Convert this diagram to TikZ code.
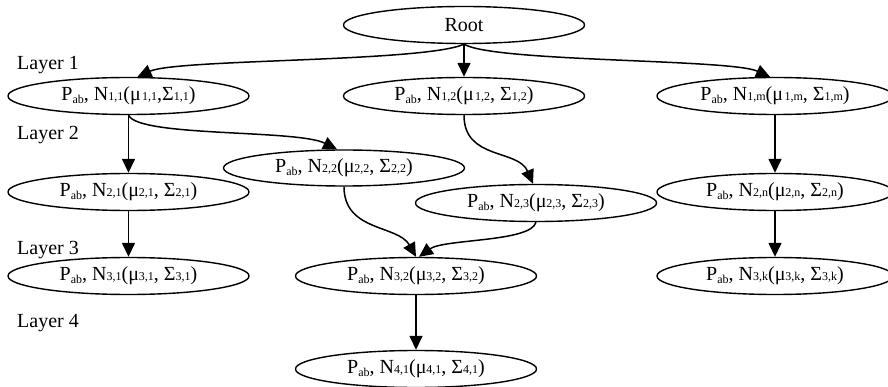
\documentclass[tikz,border=0pt]{standalone}
\usepackage{fontspec}
\setmainfont{Liberation Serif}
\usetikzlibrary{arrows.meta,shapes.geometric}
\newcommand\abx{\raisebox{-2.5pt}{\fontsize{12}{12}\selectfont ab}}
\newcommand\sbx[1]{{\fontsize{12}{12}\selectfont #1}}
\begin{document}
\begin{tikzpicture}[x=1pt,y=-1pt,
  gnode/.style={draw,ellipse,line width=1.4pt,minimum width=241pt,minimum height=37pt,inner sep=0pt,font=\fontsize{20}{22}\selectfont},
  layerlbl/.style={anchor=west,inner sep=0pt,font=\fontsize{20}{22}\selectfont},
  edge/.style={line width=1.5pt,-{Triangle[length=14pt,width=13pt]}}]
\useasboundingbox (0,0) rectangle (888,387);
% nodes
\node[gnode] (root) at (464,25) {Root};
\node[gnode] (n11) at (128.5,96) {P\abx, N\sbx{1,1}(μ\kern1.5pt\sbx{1,1},Σ\sbx{1,1})};
\node[gnode] (n12) at (464,96) {P\abx, N\sbx{1,2}(μ\kern1.5pt\sbx{1,2}, Σ\sbx{1,2})};
\node[gnode,minimum width=236pt] (n1m) at (775,96) {P\abx, N\sbx{1,m}(μ\kern1.5pt\sbx{1,m}, Σ\sbx{1,m})};
\node[gnode] (n21) at (128.5,192) {P\abx, N\sbx{2,1}(μ\sbx{2,1}, Σ\sbx{2,1})};
\node[gnode,minimum height=36pt] (n22) at (344,168) {P\abx, N\sbx{2,2}(μ\sbx{2,2}, Σ\sbx{2,2})};
\node[gnode] (n23) at (536,203) {P\abx, N\sbx{2,3}(μ\sbx{2,3}, Σ\sbx{2,3})};
\node[gnode,minimum width=236pt] (n2n) at (775,192) {P\abx, N\sbx{2,n}(μ\sbx{2,n}, Σ\sbx{2,n})};
\node[gnode] (n31) at (128.5,276) {P\abx, N\sbx{3,1}(μ\sbx{3,1}, Σ\sbx{3,1})};
\node[gnode] (n32) at (416,276) {P\abx, N\sbx{3,2}(μ\sbx{3,2}, Σ\sbx{3,2})};
\node[gnode,minimum width=236pt] (n3k) at (775,276) {P\abx, N\sbx{3,k}(μ\sbx{3,k}, Σ\sbx{3,k})};
\node[gnode] (n41) at (416,369) {P\abx, N\sbx{4,1}(μ\sbx{4,1}, Σ\sbx{4,1})};
% layer labels
\node[layerlbl] (l1) at (17,65) {Layer 1};
\node[layerlbl] (l2) at (17,135) {Layer 2};
\node[layerlbl] (l3) at (17,250) {Layer 3};
\node[layerlbl] (l4) at (17,323) {Layer 4};
% edges
\draw[edge] (root.south) .. controls +(-40,18) and +(40,-18) .. ([xshift=9pt]n11.north);
\draw[edge] (root.south) -- (n12.north);
\draw[edge] (root.south) .. controls +(30,18) and +(-40,-18) .. ([xshift=-5pt]n1m.north);
\draw[edge] (n11.south) -- (n21.north);
\draw[edge] (n11.south) .. controls +(10,22) and +(-40,-20) .. ([xshift=-7pt]n22.north);
\draw[edge] (n12.south) .. controls +(0,45) and +(-15,-35) .. ([xshift=-3pt]n23.north);
\draw[edge] (n1m.south) -- (n2n.north);
\draw[edge] (n21.south) -- (n31.north);
\draw[edge] (n22.south) .. controls +(0,45) and +(-18,-32) .. (n32.north);
\draw[edge] (n23.south) .. controls +(-5,20) and +(25,-18) .. ([xshift=3pt]n32.north);
\draw[edge] (n2n.south) -- (n3k.north);
\draw[edge] (n32.south) -- (n41.north);
\end{tikzpicture}
\end{document}
